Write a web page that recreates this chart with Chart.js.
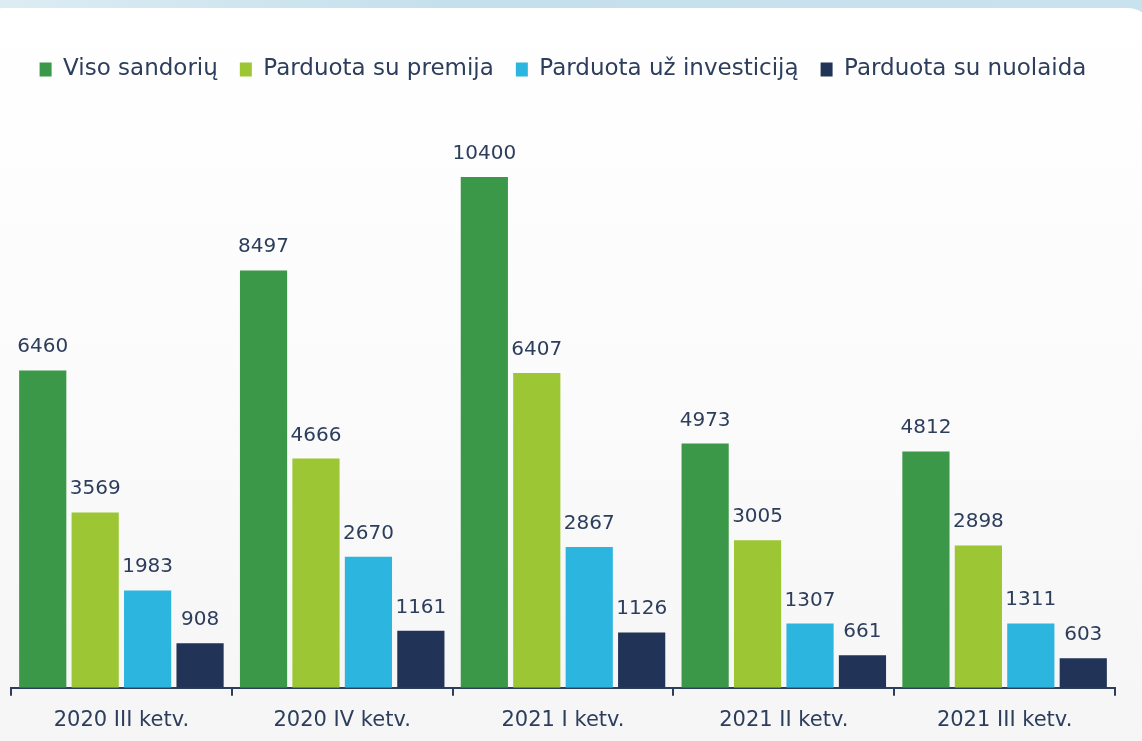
<!DOCTYPE html>
<html lang="en">
<head>
  <meta charset="UTF-8" />
  <title>Sandoriai</title>
  <script src="https://cdn.jsdelivr.net/npm/chart.js"></script>
  <style>
    html, body { margin: 0; padding: 0; }
    body {
      width: 1142px; height: 741px; overflow: hidden;
      background: linear-gradient(90deg, #dcecf3 0%, #c4e0ec 40%, #c9e3ee 100%);
      position: relative;
    }
    .card {
      position: absolute; left: -20px; top: 8px; width: 1172px; height: 760px;
      border-radius: 24px;
      background: linear-gradient(180deg, #ffffff 0%, #fbfbfb 50%, #f5f5f5 100%);
    }
    .wrap { position: absolute; left: 0; top: 6px; width: 1142px; height: 741px; }
  </style>
</head>
<body>
  <div class="card"></div>
  <div class="wrap"><canvas id="chart" width="1142" height="741"></canvas></div>

  <script>
    const quarters = ['2020 III ketv.', '2020 IV ketv.', '2021 I ketv.', '2021 II ketv.', '2021 III ketv.'];
    const visoSandoriu = [6460, 8497, 10400, 4973, 4812];
    const suPremija = [3569, 4666, 6407, 3005, 2898];
    const uzInvesticija = [1983, 2670, 2867, 1307, 1311];
    const suNuolaida = [908, 1161, 1126, 661, 603];

    const textColor = '#2d3e5c';
    const fontFamily = '"DejaVu Sans", sans-serif';

    // value labels above each bar
    const barLabels = {
      id: 'barLabels',
      afterDatasetsDraw(chart) {
        const ctx = chart.ctx;
        ctx.save();
        ctx.fillStyle = textColor;
        ctx.font = '20px ' + fontFamily;
        ctx.textAlign = 'center';
        ctx.textBaseline = 'alphabetic';
        chart.data.datasets.forEach((ds, i) => {
          chart.getDatasetMeta(i).data.forEach((bar, j) => {
            ctx.fillText(ds.data[j], bar.x, bar.y - 18);
          });
        });
        ctx.restore();
      }
    };

    new Chart(document.getElementById('chart'), {
      type: 'bar',
      data: {
        labels: quarters,
        datasets: [
          { label: 'Viso sandorių', data: visoSandoriu, backgroundColor: '#3b9849' },
          { label: 'Parduota su premija', data: suPremija, backgroundColor: '#9cc634' },
          { label: 'Parduota už investiciją', data: uzInvesticija, backgroundColor: '#2cb5de' },
          { label: 'Parduota su nuolaida', data: suNuolaida, backgroundColor: '#213457' }
        ]
      },
      options: {
        responsive: false,
        animation: false,
        datasets: { bar: { categoryPercentage: 0.95, barPercentage: 0.9 } },
        layout: { padding: { left: 11, right: 27, top: 30, bottom: 2 } },
        plugins: {
          tooltip: { enabled: false },
          legend: {
            labels: {
              color: textColor,
              font: { family: fontFamily, size: 23 },
              boxWidth: 12, boxHeight: 14, padding: 22
            }
          }
        },
        scales: {
          x: {
            grid: { display: true, drawOnChartArea: false, drawTicks: true, tickLength: 8, color: textColor, lineWidth: 2, offset: true },
            border: { display: true, color: textColor, width: 2 },
            ticks: { color: textColor, font: { family: fontFamily, size: 21 }, padding: 12 }
          },
          y: { display: false, min: 0, max: 12150 }
        }
      },
      plugins: [barLabels]
    });
  </script>
</body>
</html>
